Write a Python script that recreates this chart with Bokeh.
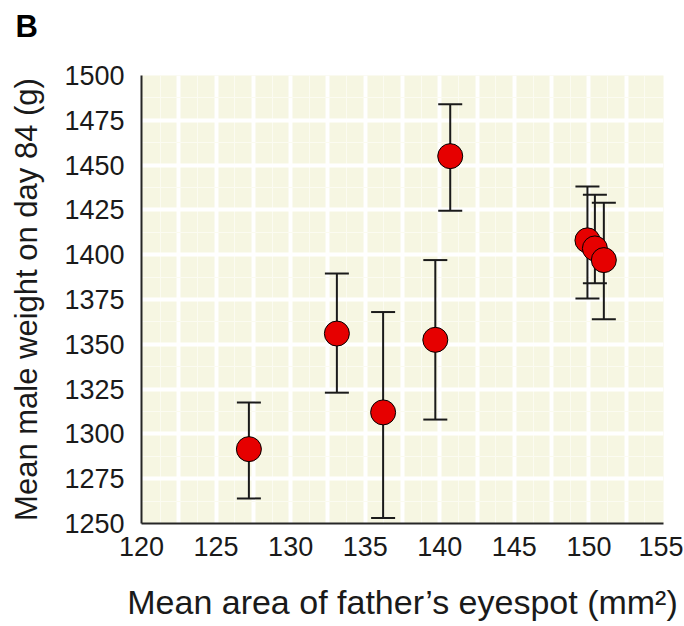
from bokeh.plotting import figure
from bokeh.models import Whisker, TeeHead, ColumnDataSource, Range1d, FixedTicker, Title
from bokeh.embed import file_html
from bokeh.resources import INLINE

# Data
eyespot_area = [127.2, 133.1, 136.2, 139.7, 140.7, 149.9, 150.4, 151.0]
male_weight = [1291.5, 1356.0, 1312.0, 1352.5, 1455.0, 1408.0, 1403.5, 1397.0]
weight_upper = [1317.5, 1389.5, 1368.0, 1397.0, 1484.0, 1438.0, 1433.5, 1429.0]
weight_lower = [1264.0, 1323.0, 1253.0, 1308.0, 1424.5, 1375.5, 1384.0, 1364.0]

x_ticks = [120, 125, 130, 135, 140, 145, 150, 155]
y_ticks = [1250, 1275, 1300, 1325, 1350, 1375, 1400, 1425, 1450, 1475, 1500]

FONT = "Liberation Sans"

src = ColumnDataSource(dict(x=eyespot_area, y=male_weight,
                            upper=weight_upper, lower=weight_lower))

p = figure(frame_width=522, frame_height=448,
           x_range=Range1d(120, 155), y_range=Range1d(1250, 1500),
           output_backend="svg", toolbar_location=None,
           min_border_left=141, min_border_top=75,
           min_border_right=20, min_border_bottom=95,
           title=None)

# spacer between the frame and the panel letter
p.add_layout(Title(text=" ", text_font=FONT, text_font_size="10px",
                   standoff=19), "above")
# panel letter
p.add_layout(Title(text="B", text_font=FONT, text_font_size="31px",
                   text_font_style="bold", text_color="black",
                   align="left", offset=-126, standoff=0), "above")

p.outline_line_color = None
p.background_fill_color = "#f6f6e2"
p.border_fill_color = "white"

# pale textured grid of the reference background
p.xgrid.ticker = FixedTicker(ticks=[120 + 2.5 * i for i in range(1, 14)],
                             minor_ticks=[120 + 1.25 * i for i in range(1, 28, 2)])
p.ygrid.ticker = FixedTicker(ticks=y_ticks[1:-1],
                             minor_ticks=[1250 + 12.5 * i for i in range(1, 20, 2)])
for g in (p.xgrid, p.ygrid):
    g.grid_line_color = "white"
    g.grid_line_width = 4
    g.grid_line_alpha = 1.0
    g.minor_grid_line_color = "#fbfbf1"
    g.minor_grid_line_width = 1

p.xaxis.ticker = FixedTicker(ticks=x_ticks)
p.yaxis.ticker = FixedTicker(ticks=y_ticks)

for ax in (p.xaxis, p.yaxis):
    ax.axis_line_color = "#262626"
    ax.axis_line_width = 2
    ax.major_tick_line_color = None
    ax.minor_tick_line_color = None
    ax.major_tick_out = 0
    ax.major_tick_in = 0
    ax.major_label_text_font = FONT
    ax.major_label_text_font_size = "27px"
    ax.major_label_text_color = "#1a1a1a"
    ax.axis_label_text_font = FONT
    ax.axis_label_text_font_style = "normal"
    ax.axis_label_text_color = "#1a1a1a"

p.xaxis.major_label_standoff = 13
p.yaxis.major_label_standoff = 17
p.xaxis.axis_label = "Mean area of father\u2019s eyespot (mm\u00b2)"
p.yaxis.axis_label = "Mean male weight on day 84 (g)"
p.xaxis.axis_label_text_font_size = "34px"
p.yaxis.axis_label_text_font_size = "31px"
p.xaxis.axis_label_standoff = 24
p.yaxis.axis_label_standoff = 17

wh = Whisker(source=src, base="x", upper="upper", lower="lower",
             line_color="#1a1a1a", line_width=2,
             upper_head=TeeHead(size=24, line_color="#1a1a1a", line_width=2),
             lower_head=TeeHead(size=24, line_color="#1a1a1a", line_width=2))
p.add_layout(wh)

p.scatter("x", "y", source=src, size=25, fill_color="#e60000",
          line_color="black", line_width=1)

open("out.html", "w").write(file_html(p, INLINE))
